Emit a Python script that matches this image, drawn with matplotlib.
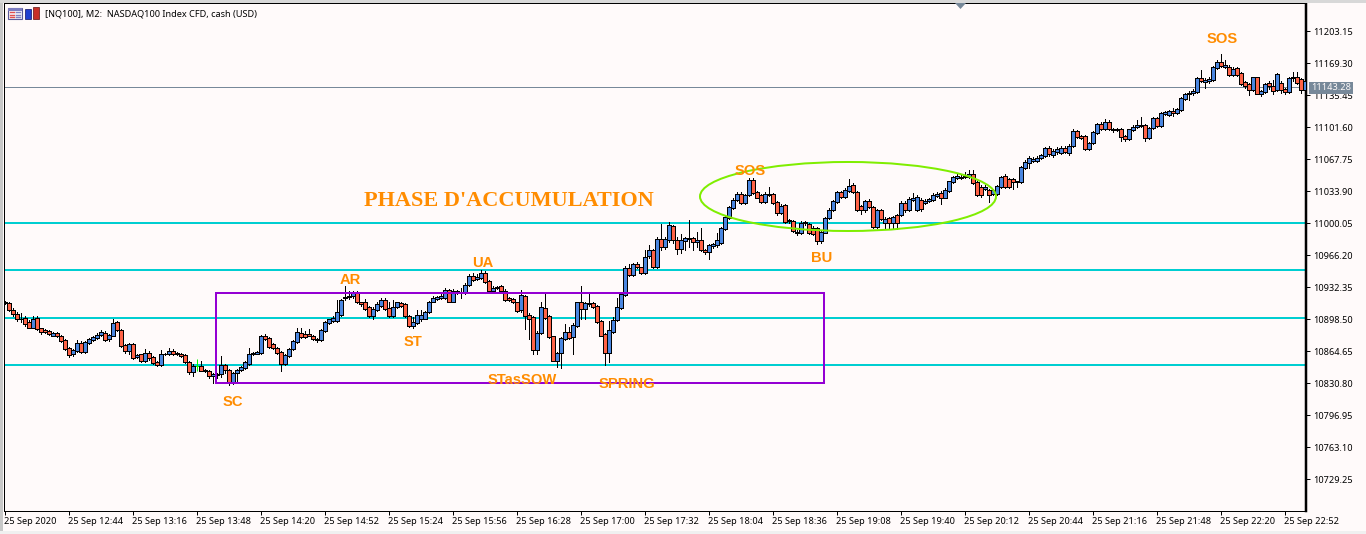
import matplotlib
matplotlib.use("Agg")
import matplotlib.pyplot as plt
from matplotlib.patches import Ellipse, Rectangle, Polygon
from matplotlib.transforms import ScaledTranslation

# M2 candles
opens = [
    10917,10915,10908,10904,10898,10900,10895,10889,10900,10889,
    10887,10886,10881,10884,10881,10876,10868,10861,10865,10873,
    10864,10873,10876,10878,10882,10884,10877,10881,10895,10887,
    10871,10865,10872,10858,10861,10854,10863,10858,10853,10850,
    10861,10861,10865,10863,10862,10860,10853,10842,10849,10849,
    10845,10844,10838,10839,10840,10850,10845,10832,10841,10845,
    10847,10851,10861,10862,10863,10881,10878,10872,10868,10864,
    10851,10859,10867,10874,10884,10883,10883,10881,10877,10876,
    10886,10894,10896,10896,10903,10921,10922,10923,10926,10916,
    10916,10911,10902,10908,10912,10919,10910,10902,10911,10915,
    10914,10902,10891,10894,10898,10899,10906,10917,10920,10921,
    10921,10929,10917,10928,10927,10926,10934,10944,10941,10942,
    10947,10939,10928,10931,10933,10928,10921,10920,10916,10908,
    10923,10903,10901,10866,10884,10910,10902,10880,10854,10863,
    10877,10885,10879,10891,10917,10909,10915,10915,10912,10896,
    10883,10863,10885,10897,10910,10924,10952,10945,10957,10953,
    10947,10965,10972,10953,10983,10975,10982,10997,10982,10973,
    10981,10983,10984,10980,10982,10972,10969,10976,10977,10979,
    10994,11005,11016,11024,11031,11021,11030,11046,11033,11030,
    11022,11030,11031,11022,11011,11019,11002,11002,10991,10989,
    11000,10999,10995,10995,10981,10990,11005,11014,11022,11033,
    11028,11034,11040,11033,11018,11014,11023,11017,10996,11014,
    11000,11005,11000,11008,11008,11021,11014,11024,11014,11024,
    11021,11023,11024,11029,11032,11027,11034,11043,11048,11048,
    11049,11049,11052,11043,11038,11036,11035,11031,11031,11038,
    11050,11047,11047,11043,11043,11058,11064,11066,11066,11069,
    11071,11079,11072,11075,11074,11079,11074,11081,11097,11092,
    11092,11078,11085,11095,11105,11099,11107,11100,11098,11100,
    11092,11089,11098,11102,11103,11104,11090,11101,11111,11103,
    11115,11114,11119,11116,11120,11131,11136,11138,11139,11153,
    11149,11150,11151,11164,11170,11165,11165,11157,11164,11159,
    11149,11147,11141,11154,11137,11139,11148,11145,11141,11148,
    11142,11139,11153,11154,11152,11141,
]
closes = [
    10915,10908,10904,10898,10899,10893,10889,10899,10888,10885,
    10885,10883,10884,10880,10875,10867,10860,10866,10873,10864,
    10874,10877,10879,10882,10885,10876,10882,10894,10887,10870,
    10865,10872,10857,10860,10854,10863,10857,10852,10850,10861,
    10862,10865,10861,10861,10859,10853,10842,10849,10849,10844,
    10843,10838,10840,10840,10850,10845,10832,10841,10845,10848,
    10853,10862,10863,10864,10880,10877,10869,10868,10863,10851,
    10860,10867,10875,10885,10879,10879,10881,10877,10876,10887,
    10895,10898,10900,10906,10919,10922,10923,10926,10916,10914,
    10909,10902,10909,10914,10919,10909,10902,10911,10916,10912,
    10902,10891,10895,10903,10903,10906,10917,10921,10922,10923,
    10929,10917,10928,10927,10926,10934,10944,10940,10943,10947,
    10938,10928,10931,10931,10928,10919,10919,10916,10907,10924,
    10902,10899,10866,10884,10911,10900,10879,10854,10863,10878,
    10885,10878,10892,10916,10909,10915,10914,10911,10895,10881,
    10863,10887,10897,10911,10925,10952,10945,10957,10953,10947,
    10964,10972,10953,10983,10975,10983,10998,10982,10973,10982,
    10984,10983,10980,10982,10971,10969,10977,10978,10982,10995,
    11006,11017,11024,11031,11021,11030,11046,11032,11027,11022,
    11031,11031,11021,11011,11018,11001,11002,10992,10989,11000,
    11000,10989,10988,10981,10991,11005,11014,11023,11033,11028,
    11035,11039,11033,11014,11014,11023,11017,10996,11014,11004,
    11004,11000,11006,11000,11021,11014,11025,11027,11028,11015,
    11023,11025,11030,11031,11027,11035,11044,11049,11050,11049,
    11050,11052,11042,11030,11030,11038,11030,11035,11039,11049,
    11038,11038,11043,11044,11059,11065,11069,11068,11069,11072,
    11079,11073,11076,11078,11079,11075,11082,11097,11091,11090,
    11078,11085,11096,11105,11099,11107,11099,11098,11100,11091,
    11089,11099,11102,11104,11104,11090,11101,11111,11103,11116,
    11117,11119,11116,11121,11132,11137,11138,11140,11153,11150,
    11151,11152,11165,11170,11166,11167,11157,11163,11157,11147,
    11145,11141,11154,11137,11140,11147,11145,11140,11158,11141,
    11139,11153,11154,11148,11141,11150,
]
highs = [
    10918,10916,10910,10906,10905,10902,10897,10902,10902,10889,
    10888,10887,10885,10885,10882,10877,10869,10867,10876,10875,
    10875,10878,10880,10884,10887,10886,10883,10899,10896,10888,
    10872,10873,10873,10861,10862,10867,10865,10859,10854,10866,
    10863,10868,10867,10864,10863,10861,10854,10851,10856,10854,
    10846,10845,10841,10841,10859,10851,10846,10842,10846,10849,
    10854,10868,10864,10865,10882,10883,10879,10873,10869,10865,
    10861,10868,10876,10889,10889,10886,10888,10882,10878,10888,
    10896,10899,10902,10919,10920,10933,10928,10928,10928,10917,
    10920,10912,10911,10916,10921,10921,10917,10919,10917,10917,
    10915,10903,10901,10908,10908,10907,10918,10923,10923,10925,
    10931,10930,10930,10929,10931,10937,10946,10947,10946,10950,
    10949,10940,10933,10933,10934,10930,10922,10921,10917,10929,
    10924,10905,10902,10886,10916,10925,10903,10881,10864,10879,
    10893,10890,10894,10917,10933,10917,10926,10917,10913,10897,
    10884,10896,10901,10921,10926,10955,10957,10958,10959,10954,
    10972,10977,10973,10985,10999,10985,11001,10998,10985,10988,
    10985,11003,10985,10991,10995,10973,10978,10979,10990,10996,
    11007,11018,11026,11033,11033,11031,11048,11048,11034,11031,
    11033,11038,11032,11023,11020,11020,11004,11003,10993,11002,
    11002,11000,10997,10996,10992,11006,11016,11024,11034,11034,
    11037,11047,11042,11034,11019,11024,11025,11018,11015,11015,
    11006,11006,11007,11010,11023,11023,11028,11032,11030,11027,
    11025,11027,11032,11033,11034,11037,11045,11050,11052,11052,
    11054,11056,11056,11044,11040,11040,11036,11036,11040,11050,
    11052,11048,11048,11045,11060,11067,11071,11070,11071,11073,
    11080,11081,11078,11080,11081,11081,11084,11099,11098,11093,
    11093,11086,11097,11106,11107,11110,11109,11101,11101,11101,
    11093,11100,11104,11109,11112,11105,11102,11112,11112,11117,
    11118,11120,11122,11122,11133,11138,11140,11142,11155,11162,
    11153,11154,11166,11172,11179,11172,11167,11165,11165,11160,
    11150,11148,11155,11155,11141,11148,11150,11151,11159,11150,
    11143,11155,11160,11160,11153,11152,
]
lows = [
    10914,10907,10902,10896,10895,10891,10889,10889,10887,10883,
    10884,10882,10880,10879,10874,10866,10858,10859,10864,10863,
    10863,10872,10875,10877,10881,10875,10875,10880,10886,10869,
    10863,10861,10856,10857,10853,10853,10855,10851,10849,10849,
    10860,10860,10860,10860,10858,10852,10840,10838,10843,10843,
    10842,10836,10831,10836,10837,10841,10829,10830,10831,10843,
    10846,10850,10860,10861,10862,10876,10868,10867,10862,10844,
    10850,10858,10866,10873,10878,10878,10880,10876,10874,10875,
    10885,10893,10895,10895,10902,10919,10920,10921,10915,10912,
    10908,10901,10899,10907,10911,10908,10901,10901,10910,10911,
    10901,10890,10889,10893,10896,10898,10905,10916,10919,10920,
    10920,10916,10916,10925,10921,10925,10933,10939,10940,10941,
    10937,10927,10927,10930,10928,10918,10918,10915,10906,10906,
    10888,10877,10862,10862,10883,10899,10878,10854,10848,10847,
    10876,10877,10862,10890,10899,10899,10912,10910,10894,10880,
    10850,10853,10884,10896,10909,10923,10944,10944,10952,10946,
    10946,10963,10952,10952,10972,10973,10980,10979,10967,10968,
    10972,10975,10972,10975,10970,10967,10962,10974,10975,10978,
    10993,11004,11015,11023,11020,11020,11029,11031,11026,11021,
    11021,11029,11020,11009,11010,11000,11000,10991,10987,10988,
    10998,10988,10987,10978,10979,10989,11004,11013,11021,11027,
    11027,11033,11032,11013,11010,11012,11016,10995,10995,11003,
    10994,10994,10994,10994,11007,11012,11013,11023,11013,11013,
    11020,11022,11023,11028,11020,11026,11033,11042,11047,11047,
    11048,11048,11041,11029,11028,11035,11022,11030,11030,11037,
    11037,11037,11036,11038,11042,11057,11058,11065,11065,11068,
    11070,11071,11070,11073,11073,11074,11072,11080,11090,11089,
    11077,11077,11084,11094,11098,11098,11098,11096,11097,11087,
    11087,11088,11097,11101,11102,11087,11089,11100,11102,11102,
    11114,11113,11113,11115,11119,11130,11130,11135,11138,11149,
    11143,11148,11150,11163,11165,11164,11156,11156,11156,11146,
    11143,11135,11140,11136,11134,11138,11142,11137,11140,11138,
    11137,11138,11150,11147,11138,11139,
]

price_ticks = [11203.15, 11169.30, 11135.45, 11101.60, 11067.75, 11033.90, 11000.05, 10966.20,
               10932.35, 10898.50, 10864.65, 10830.80, 10796.95, 10763.10, 10729.25]
time_labels = ["25 Sep 2020", "25 Sep 12:44", "25 Sep 13:16", "25 Sep 13:48", "25 Sep 14:20",
               "25 Sep 14:52", "25 Sep 15:24", "25 Sep 15:56", "25 Sep 16:28", "25 Sep 17:00",
               "25 Sep 17:32", "25 Sep 18:04", "25 Sep 18:36", "25 Sep 19:08", "25 Sep 19:40",
               "25 Sep 20:12", "25 Sep 20:44", "25 Sep 21:16", "25 Sep 21:48", "25 Sep 22:20",
               "25 Sep 22:52"]
levels = [11000.05, 10950.3, 10899.5, 10849.8]
bid = 11143.6

BG = "#FFFAFA"
UP = "#4A86E0"
DOWN = "#FF6347"
ORANGE = "#FF8C00"
UI_FONT = "Noto Sans"
PX = 0.72  # one pixel in points

W, H = 1366, 534
fig = plt.figure(figsize=(W / 100, H / 100), dpi=100, facecolor=BG)
# chart window: x 4..1306, y 3..511 in pixels
ax = fig.add_axes([4 / W, 1 - 511 / H, 1302 / W, 508 / H], facecolor=BG)
ax.set_xlim(-0.25, 325.25)
ax.set_ylim(10695.41, 11232.77)

for lev in levels:
    ax.axhline(lev, color="#00CED1", lw=2 * PX, zorder=1)
ax.axhline(bid, color="#778899", lw=PX, zorder=1)

# candles
green_doji = 48
for i in range(len(opens)):
    if i == green_doji:
        ax.vlines(i, lows[i], highs[i], color="#00FF00", lw=PX, zorder=3)
        ax.plot([i - 0.3, i + 0.3], [opens[i], opens[i]], color="#00FF00", lw=PX, zorder=3)
        continue
    ax.vlines(i, lows[i], highs[i], color="black", lw=PX, zorder=3, antialiased=False)
    bottom = min(opens[i], closes[i])
    height = max(abs(closes[i] - opens[i]), 1)
    ax.bar(i, height, bottom=bottom, width=0.85, color=UP if closes[i] >= opens[i] else DOWN,
           edgecolor="black", linewidth=PX, zorder=4, antialiased=False)

# accumulation box and test ellipse
ax.add_patch(Rectangle((52.75, 10830.8), 152, 95.2, fill=False, ec="#9400D3", lw=2 * PX, zorder=5))
ax.add_patch(Ellipse((210.75, 11028.1), 74, 73, fill=False, ec="#7FEE00", lw=2 * PX, zorder=5))

# wyckoff labels
labels = [("SC", 57, 10810.5), ("AR", 86.25, 10939.5), ("ST", 102, 10874), ("UA", 119.5, 10957.5),
          ("STasSOW", 129.25, 10834.5), ("SPRING", 155.5, 10829.5), ("SOS", 186.25, 11055),
          ("BU", 204.25, 10963), ("SOS", 304.25, 11194.5)]
for name, x, y in labels:
    ax.text(x, y, name, color=ORANGE, fontsize=10.6, fontweight="bold", family="Liberation Sans",
            ha="center", va="center", zorder=6)
ax.text(89.75, 11023.5, "PHASE D'ACCUMULATION", color=ORANGE, fontsize=16, fontweight="bold",
        family="Liberation Serif", ha="left", va="center", zorder=6)

# axes
for side in ["top", "left", "bottom"]:
    ax.spines[side].set_linewidth(PX)
ax.spines["right"].set_linewidth(2.5 * PX)
ax.yaxis.tick_right()
ax.set_yticks(price_ticks)
ax.set_yticklabels([f"{p:.2f}" for p in price_ticks], family=UI_FONT, fontsize=6.6)
ax.set_xticks([16 * k for k in range(len(time_labels))])
ax.set_xticklabels(time_labels, family=UI_FONT, fontsize=6.6, ha="left")
ax.tick_params(axis="both", length=3, width=PX, pad=2)
ax.tick_params(axis="x", pad=1.5)
shift = ScaledTranslation(-1.5 / 100, 0, fig.dpi_scale_trans)
for lab in ax.get_xticklabels():
    lab.set_transform(lab.get_transform() + shift)

# window furniture drawn in pixel coordinates
ui = fig.add_axes([0, 0, 1, 1], facecolor="none")
ui.set_xlim(0, W)
ui.set_ylim(H, 0)
ui.axis("off")
ui.add_patch(Rectangle((0, 0), 3, H, color="#C8C8C8", lw=0))
ui.add_patch(Rectangle((0, 0), W, 3, color="#D8D8D8", lw=0))
ui.add_patch(Rectangle((0, 531), W, 3, color="#F0F0F0", lw=0))
ui.add_patch(Polygon([(955, 3), (966, 3), (960.5, 9)], color="#778899", lw=0))

# chart type icons in the corner
ui.add_patch(Rectangle((8, 8), 14, 11, fc="#F4F4FA", ec="#5A5A9A", lw=0.8))
ui.add_patch(Rectangle((8, 8), 14, 2.5, fc="#7C7CC0", lw=0))
for y in [12, 14.5, 17]:
    ui.plot([10, 14], [y, y], color="#E05050", lw=1)
    ui.plot([16, 20], [y, y], color="#8080C0", lw=1)
ui.add_patch(Rectangle((25, 9), 6, 10, fc="#2040D0", ec="#101060", lw=0.5))
ui.add_patch(Rectangle((33, 7), 6, 12, fc="#C83028", ec="#601010", lw=0.5))
ui.text(45, 13.5, "[NQ100], M2:  NASDAQ100 Index CFD, cash (USD)", family=UI_FONT, fontsize=6.6,
        color="black", ha="left", va="center")

# bid price tag
ui.add_patch(Rectangle((1309, 82), 44, 12, color="#778899", lw=0))
ui.text(1331, 88, "11143.28", family=UI_FONT, fontsize=6.6, color=BG, ha="center", va="center")

fig.savefig("out.png", dpi=100, facecolor=BG)
